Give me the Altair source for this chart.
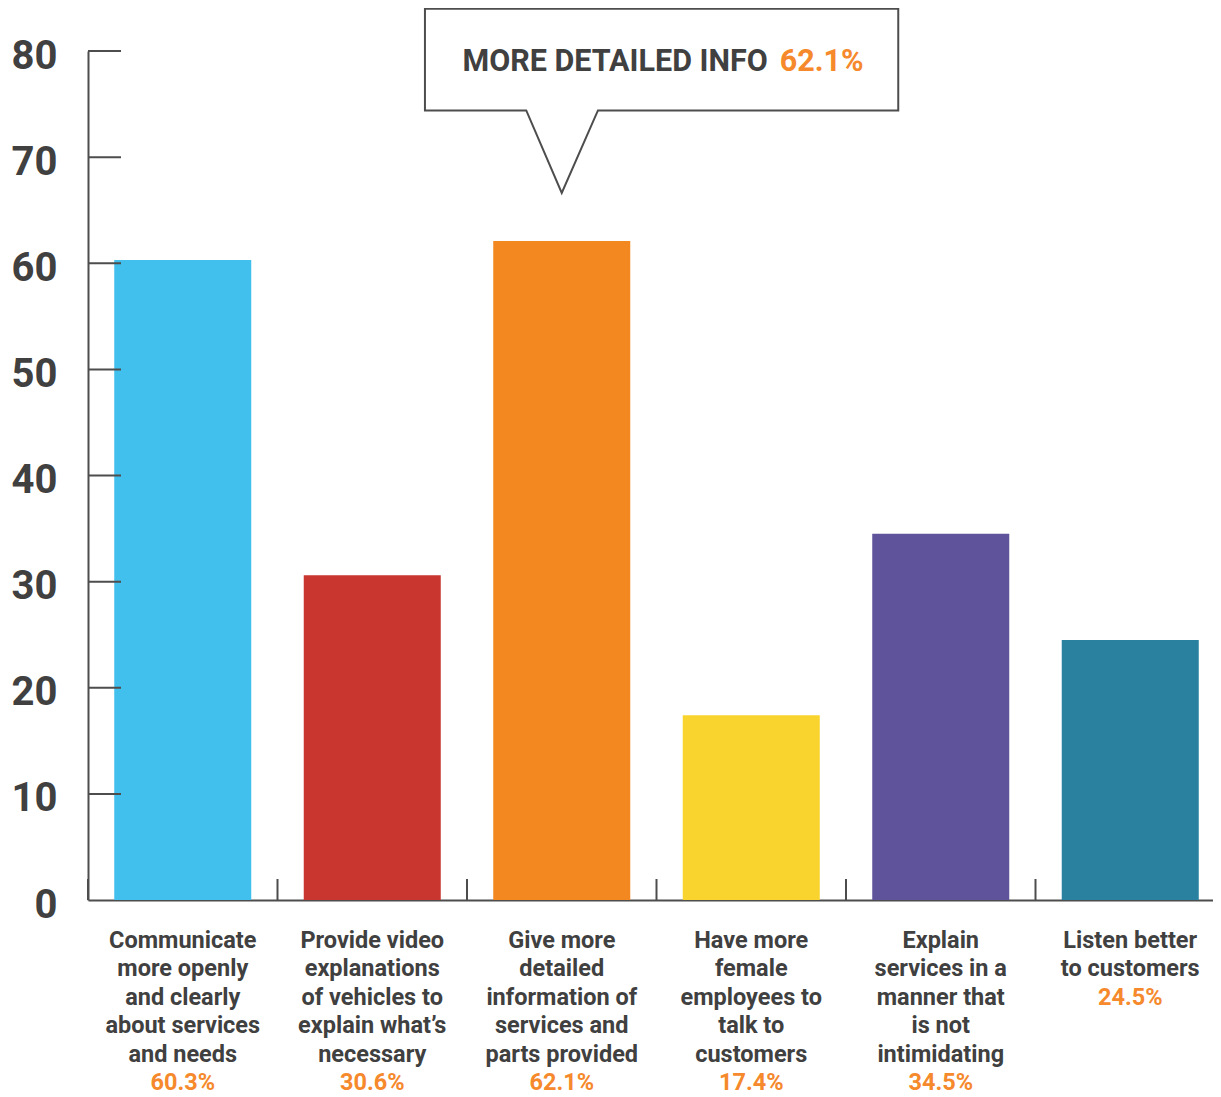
import altair as alt
import pandas as pd

categories = [
    "Communicate more openly and clearly about services and needs",
    "Provide video explanations of vehicles to explain what's necessary",
    "Give more detailed information of services and parts provided",
    "Have more female employees to talk to customers",
    "Explain services in a manner that is not intimidating",
    "Listen better to customers",
]
label_lines = [
    ["Communicate", "more openly", "and clearly", "about services", "and needs"],
    ["Provide video", "explanations", "of vehicles to", "explain what\u2019s", "necessary"],
    ["Give more", "detailed", "information of", "services and", "parts provided"],
    ["Have more", "female", "employees to", "talk to", "customers"],
    ["Explain", "services in a", "manner that", "is not", "intimidating"],
    ["Listen better", "to customers"],
]
values = [60.3, 30.6, 62.1, 17.4, 34.5, 24.5]
bar_colors = ["#41bfed", "#c9352f", "#f38820", "#f9d42e", "#5f549b", "#2a819f"]
y_ticks = [0, 10, 20, 30, 40, 50, 60, 70, 80]
callout_title = "MORE DETAILED INFO"
callout_value = "62.1%"
callout_category = categories[2]

DARK = "#404040"
LINE = "#4d4d4d"
ORANGE = "#f5892c"
FONT = "Roboto"
LH = 28.4
PAD_INNER = 0.277
PAD_OUTER = 0.1385

W, H = 1125, 849
X_RANGE = 1137          # band range runs slightly past the visible edge, as in the reference
STEP = X_RANGE / len(categories)

df = pd.DataFrame({
    "cat": categories,
    "value": values,
    "color": bar_colors,
    "label": ["\n".join(l) for l in label_lines],
    "pct": [f"{v}%" for v in values],
    "nlines": [len(l) for l in label_lines],
})
ticks_df = pd.DataFrame({"t": [t for t in y_ticks if t > 0]})
callout_df = pd.DataFrame({"cat": [callout_category], "title": [callout_title], "val": [callout_value]})

xscale = alt.Scale(domain=categories, paddingInner=PAD_INNER, paddingOuter=PAD_OUTER,
                   range=[0, X_RANGE])
yscale = alt.Scale(domain=[0, 80], nice=False)

x_enc = alt.X("cat:N", scale=xscale, sort=categories,
              axis=alt.Axis(title=None, labels=False, ticks=False, grid=False,
                            domainColor=LINE, domainWidth=2))

bars = alt.Chart(df).mark_bar().encode(
    x=x_enc,
    y=alt.Y("value:Q", scale=yscale,
            axis=alt.Axis(title=None, values=y_ticks, ticks=False, grid=False,
                          domainColor=LINE, domainWidth=2,
                          labelFont=FONT, labelFontWeight="bold", labelFontSize=40,
                          labelColor=DARK, labelPadding=31, labelOffset=5)),
    color=alt.Color("color:N", scale=None),
)

yticks = alt.Chart(ticks_df).mark_rule(color=LINE, strokeWidth=2).encode(
    y=alt.Y("t:Q", scale=yscale),
    x=alt.value(0),
    x2=alt.value(33),
)

xticks = alt.Chart(df).mark_rule(
    color=LINE, strokeWidth=2, xOffset=-PAD_OUTER * STEP
).encode(
    x=alt.X("cat:N", scale=xscale, sort=categories, bandPosition=0),
    y=alt.value(H - 21),
    y2=alt.value(H),
)

cat_text = alt.Chart(df).mark_text(
    font=FONT, fontWeight="bold", fontSize=23.5, lineHeight=LH, lineBreak="\n",
    align="center", baseline="top", color=DARK,
).encode(
    x=alt.X("cat:N", scale=xscale, sort=categories),
    y=alt.value(H + 29),
    text="label:N",
)

pct_text = alt.Chart(df).mark_text(
    font=FONT, fontWeight="bold", fontSize=23.5,
    align="center", baseline="top", color=ORANGE,
).encode(
    x=alt.X("cat:N", scale=xscale, sort=categories),
    y=alt.value(H + 29),
    yOffset=alt.YOffset("nlines:Q", scale=alt.Scale(domain=[0, 1], range=[0, LH])),
    text="pct:N",
)

bubble_path = ("M -0.355 -0.826 L -1.368 -0.826 L -1.368 -1.843 L 3.365 -1.843 "
               "L 3.365 -0.826 L 0.362 -0.826 L 0 0 Z")
bubble = alt.Chart(callout_df).mark_point(
    shape=bubble_path, size=40000, fill="white", stroke=LINE, strokeWidth=2,
    opacity=1, fillOpacity=1, filled=True,
).encode(
    x=alt.X("cat:N", scale=xscale, sort=categories),
    y=alt.value(142),
)

bubble_title = alt.Chart(callout_df).mark_text(
    font=FONT, fontWeight="bold", fontSize=30.5, align="right", baseline="alphabetic",
    color=DARK, dx=206,
).encode(
    x=alt.X("cat:N", scale=xscale, sort=categories),
    y=alt.value(20),
    text="title:N",
)
bubble_val = alt.Chart(callout_df).mark_text(
    font=FONT, fontWeight="bold", fontSize=30.5, align="left", baseline="alphabetic",
    color=ORANGE, dx=218,
).encode(
    x=alt.X("cat:N", scale=xscale, sort=categories),
    y=alt.value(20),
    text="val:N",
)

chart = alt.layer(
    bars, yticks, xticks, cat_text, pct_text, bubble, bubble_title, bubble_val
).properties(
    width=W, height=H,
    autosize=alt.AutoSizeParams(type="none"),
    padding={"left": 80, "top": 43, "right": 0, "bottom": 197},
).configure_view(strokeWidth=0)

chart.save("out.html", embed_options={"renderer": "svg", "actions": False})
